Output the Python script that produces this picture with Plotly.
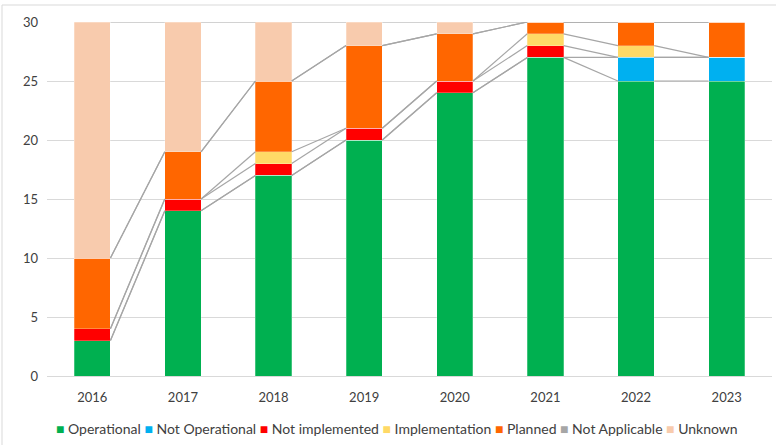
import plotly.graph_objects as go

years = ["2016", "2017", "2018", "2019", "2020", "2021", "2022", "2023"]
series_names = ["Operational", "Not Operational", "Not implemented", "Implementation",
                "Planned", "Not Applicable", "Unknown"]
operational = [3, 14, 17, 20, 24, 27, 25, 25]
not_operational = [0, 0, 0, 0, 0, 0, 2, 2]
not_implemented = [1, 1, 1, 1, 1, 1, 0, 0]
implementation = [0, 0, 1, 0, 0, 1, 1, 0]
planned = [6, 4, 6, 7, 4, 1, 2, 3]
not_applicable = [0, 0, 0, 0, 0, 0, 0, 0]
unknown = [20, 11, 5, 2, 1, 0, 0, 0]
colors = ["#00B050", "#00B0F0", "#FF0000", "#FFD966", "#FF6600", "#A6A6A6", "#F8CBAD"]

all_series = [operational, not_operational, not_implemented, implementation,
              planned, not_applicable, unknown]

xpos = list(range(len(years)))
bar_w = 0.4

fig = go.Figure()

# series lines (Excel-style) connecting cumulative tops between bar edges
cum = [0] * len(years)
line_x, line_y = [], []
for s in all_series:
    cum = [c + v for c, v in zip(cum, s)]
    for i in range(len(years) - 1):
        line_x += [xpos[i] + bar_w / 2, xpos[i + 1] - bar_w / 2, None]
        line_y += [cum[i], cum[i + 1], None]
fig.add_trace(go.Scatter(x=line_x, y=line_y, mode="lines",
                         line=dict(color="#A6A6A6", width=1.2),
                         showlegend=False, hoverinfo="skip"))

for name, vals, col in zip(series_names, all_series, colors):
    fig.add_trace(go.Bar(x=xpos, y=vals, name=name, width=bar_w, showlegend=False,
                         marker=dict(color=col, line=dict(color="rgba(255,255,255,0.5)", width=0.5))))

# Excel-like compact legend as a single text line
legend_text = " ".join(
    f"<span style='color:{c}'>■</span> {n}" for n, c in zip(series_names, colors)
)

fig.update_layout(
    barmode="stack",
    width=776, height=445,
    margin=dict(l=47, r=4, t=22, b=69),
    paper_bgcolor="white", plot_bgcolor="white",
    font=dict(family="Lato, 'Open Sans', sans-serif", size=13, color="#404040"),
    showlegend=False,
    xaxis=dict(tickvals=xpos, ticktext=years, range=[-0.5, 7.5],
               showgrid=False, showline=True, linecolor="#D9D9D9", linewidth=1,
               ticks="", ticklabelstandoff=9, tickfont=dict(size=13, color="#404040")),
    yaxis=dict(range=[0, 30], dtick=5, showgrid=True, gridcolor="#D9D9D9",
               gridwidth=1, zeroline=False, showline=False, ticks="",
               ticklabelstandoff=8, tickfont=dict(size=13, color="#404040")),
    bargap=0.6,
    annotations=[dict(text=legend_text, xref="paper", yref="paper",
                      x=(397 - 47) / 725, y=(376 - 428) / 354,
                      xanchor="center", yanchor="middle", showarrow=False,
                      font=dict(size=14, color="#404040"))],
    shapes=[dict(type="rect", xref="paper", yref="paper",
                 x0=(2 - 47) / 725, x1=(790 - 47) / 725,
                 y0=(376 - 460) / 354, y1=(376 - 5) / 354,
                 line=dict(color="#D9D9D9", width=1), fillcolor="rgba(0,0,0,0)", layer="below")],
)

fig.write_html("out.html")
